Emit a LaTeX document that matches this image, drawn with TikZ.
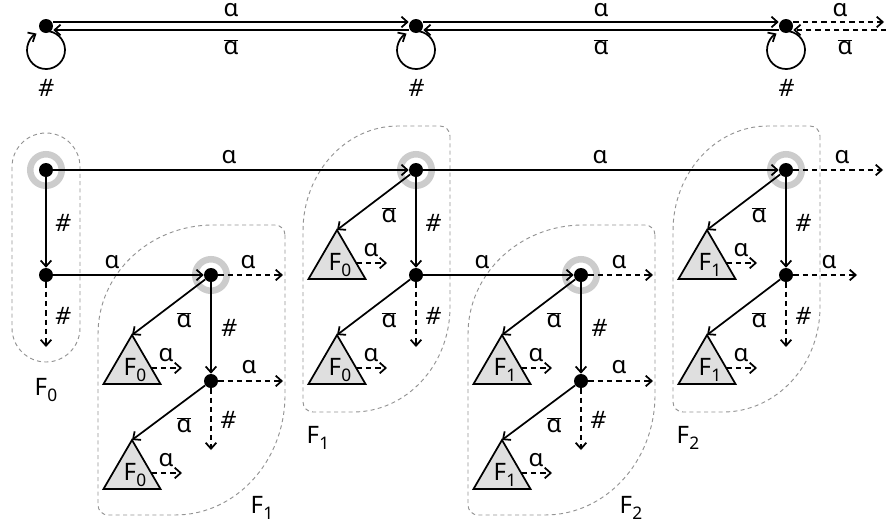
\documentclass[tikz,border=0pt]{standalone}
\usepackage{fontspec}
\setmainfont{Noto Sans}
\usetikzlibrary{arrows.meta,calc}
\pgfdeclarelayer{bg}\pgfsetlayers{bg,main}
\newcommand\myal{ɑ}
\newcommand\myabar{$\overline{\hbox{ɑ}}$}
\newcommand\myhash{{\itshape\#}}
\newcommand\Fs[1]{F\kern0.3pt\raisebox{-5pt}{\fontsize{13}{13}\selectfont#1}}
\newcommand\mytri[3]{%
  \coordinate (#1) at #2;
  \draw[tri] (#1) -- ++(28.5,49) -- ++(-57,0) -- cycle;
  \node[lbl, anchor=base] (#1-F) at ($(#1)+(3,40)$) {\Fs{#3}};
  \coordinate (#1-s) at ($(#1)+(19.5,33)$);
  \coordinate (#1-e) at ($(#1)+(50,33)$);
  \draw[arr,dsh] (#1-s) -- (#1-e);
  \node[lbl] (#1-a) at ($(#1)+(34,20)$) {\myal};
}
\newcommand\grp[8]{%
  \draw[grpline] ({#3},{#2+10})
   -- ({#3},{#4-#8})
   .. controls ({#3},{#4-#8+0.5523*#8}) and ({#3-#7+0.5523*#7},{#4}) .. ({#3-#7},{#4})
   -- ({#1+10},{#4})
   .. controls ({#1+10-5.523},{#4}) and ({#1},{#4-10+5.523}) .. ({#1},{#4-10})
   -- ({#1},{#2+#6})
   .. controls ({#1},{#2+#6-0.5523*#6}) and ({#1+#5-0.5523*#5},{#2}) .. ({#1+#5},{#2})
   -- ({#3-10},{#2})
   .. controls ({#3-10+5.523},{#2}) and ({#3},{#2+10-5.523}) .. ({#3},{#2+10}) -- cycle;
}
\begin{document}
\begin{tikzpicture}[x=0.75pt,y=-0.75pt,
  dot/.style={circle, fill=black, inner sep=0pt, minimum size=10.5pt},
  ring/.style={draw=gray!40, line width=4.9pt},
  arr/.style={-{Straight Barb[length=4.5pt,width=8pt]}, line width=1.3pt},
  dsh/.style={dash pattern=on 4pt off 3pt},
  grpline/.style={draw=gray!85, line width=0.7pt, dash pattern=on 3pt off 2.5pt},
  tri/.style={draw=black, fill=gray!25, line width=1.3pt},
  lbl/.style={inner sep=0pt, font=\fontsize{18}{20}\selectfont}]
\useasboundingbox (0,0) rectangle (886,529);

% ---------- top row ----------
\node[dot] (t0) at (46,26) {};
\node[dot] (t1) at (416,26) {};
\node[dot] (t2) at (786,26) {};
\coordinate (tr1) at (884,22);
\coordinate (tr2) at (886,30);
\draw[arr] ([yshift=3pt]t0.east) -- ([yshift=3pt]t1.west);
\draw[arr] ([yshift=-3pt]t1.west) -- ([yshift=-3pt]t0.east);
\draw[arr] ([yshift=3pt]t1.east) -- ([yshift=3pt]t2.west);
\draw[arr] ([yshift=-3pt]t2.west) -- ([yshift=-3pt]t1.east);
\draw[arr,dsh] ([yshift=3pt]t2.east) -- (tr1);
\draw[arr,dsh] (tr2) -- ([yshift=-3pt]t2.east);
\foreach \n in {t0,t1,t2}
  \draw[arr] ([shift={(3.3,5.3)}]\n.center) arc[start angle=-80, end angle=240, radius=19];
\node[lbl] (la1) at (231,10) {\myal};
\node[lbl] (lb1) at (231,47) {\myabar};
\node[lbl] (la2) at (601,10) {\myal};
\node[lbl] (lb2) at (601,47) {\myabar};
\node[lbl] (la3) at (840,10) {\myal};
\node[lbl] (lb3) at (845,47) {\myabar};
\node[lbl] (lh1) at (46,88) {\myhash};
\node[lbl] (lh2) at (416,88) {\myhash};
\node[lbl] (lh3) at (786,88) {\myhash};

% ---------- group outlines ----------
\draw[grpline, rounded corners=25.5pt] (12,133) rectangle (80,362);
\grp{98}{225}{285}{515}{115}{109}{110}{120}
\grp{468}{225}{655}{515}{115}{109}{110}{120}
\grp{303}{126}{450}{412}{95}{105}{97}{105}
\grp{673}{126}{820}{412}{95}{105}{97}{105}

% ---------- bottom nodes ----------
\node[dot] (T0) at (46,170) {};
\node[dot] (M0) at (46,275) {};
\node[dot] (T1) at (416,170) {};
\node[dot] (M1) at (416,275) {};
\node[dot] (T2) at (786,170) {};
\node[dot] (M2) at (786,275) {};
\node[dot] (L1) at (211,275) {};
\node[dot] (P1) at (211,381) {};
\node[dot] (L2) at (581,275) {};
\node[dot] (P2) at (581,381) {};
\begin{pgfonlayer}{bg}
\foreach \n in {T0,T1,T2,L1,L2} \draw[ring] (\n) circle[radius=15.75];
\end{pgfonlayer}

\coordinate (T2e) at (883,170);
\coordinate (M0d) at (46,347);
\coordinate (M1d) at (416,347);
\coordinate (M2d) at (786,347);
\coordinate (M2e) at (857,275);
\coordinate (L1e) at (283,275);
\coordinate (P1e) at (283,381);
\coordinate (P1d) at (211,450);
\coordinate (L2e) at (653,275);
\coordinate (P2e) at (653,381);
\coordinate (P2d) at (581,450);

% triangles
\mytri{A1}{(337,230)}{0}
\mytri{B1}{(337,335)}{0}
\mytri{A2}{(707,230)}{1}
\mytri{B2}{(707,335)}{1}
\mytri{C1}{(132,335)}{0}
\mytri{D1}{(132,440)}{0}
\mytri{C2}{(502,335)}{1}
\mytri{D2}{(502,440)}{1}

% column edges
\draw[arr] (T0) -- (T1);
\draw[arr] (T1) -- (T2);
\draw[arr,dsh] (T2) -- (T2e);
\draw[arr] (T0) -- (M0);
\draw[arr] (T1) -- (M1);
\draw[arr] (T2) -- (M2);
\draw[arr,dsh] (M0) -- (M0d);
\draw[arr,dsh] (M1) -- (M1d);
\draw[arr,dsh] (M2) -- (M2d);
\draw[arr] (M0) -- (L1);
\draw[arr] (M1) -- (L2);
\draw[arr,dsh] (M2) -- (M2e);
\draw[arr] (T1) -- (A1);
\draw[arr] (M1) -- (B1);
\draw[arr] (T2) -- (A2);
\draw[arr] (M2) -- (B2);
% lower group edges
\draw[arr,dsh] (L1) -- (L1e);
\draw[arr] (L1) -- (P1);
\draw[arr,dsh] (P1) -- (P1e);
\draw[arr,dsh] (P1) -- (P1d);
\draw[arr] (L1) -- (C1);
\draw[arr] (P1) -- (D1);
\draw[arr,dsh] (L2) -- (L2e);
\draw[arr] (L2) -- (P2);
\draw[arr,dsh] (P2) -- (P2e);
\draw[arr,dsh] (P2) -- (P2d);
\draw[arr] (L2) -- (C2);
\draw[arr] (P2) -- (D2);

% labels
\node[lbl] (e1) at (229,157) {\myal};
\node[lbl] (e2) at (600,157) {\myal};
\node[lbl] (e3) at (842,157) {\myal};
\node[lbl] (h1) at (63,223) {\myhash};
\node[lbl] (h2) at (433,223) {\myhash};
\node[lbl] (h3) at (803,223) {\myhash};
\node[lbl] (h4) at (63,316) {\myhash};
\node[lbl] (h5) at (433,316) {\myhash};
\node[lbl] (h6) at (803,316) {\myhash};
\node[lbl] (e4) at (112,262) {\myal};
\node[lbl] (e5) at (482,262) {\myal};
\node[lbl] (e6) at (829,262) {\myal};
\node[lbl] (b1) at (389,215) {\myabar};
\node[lbl] (b2) at (759,215) {\myabar};
\node[lbl] (b3) at (389,320) {\myabar};
\node[lbl] (b4) at (759,320) {\myabar};
\node[lbl] (g1) at (248,262) {\myal};
\node[lbl] (g2) at (229,328) {\myhash};
\node[lbl] (g3) at (249,367) {\myal};
\node[lbl] (g4) at (228,420) {\myhash};
\node[lbl] (g5) at (184,320) {\myabar};
\node[lbl] (g6) at (184,425) {\myabar};
\node[lbl] (k1) at (619,262) {\myal};
\node[lbl] (k2) at (599,328) {\myhash};
\node[lbl] (k3) at (619,367) {\myal};
\node[lbl] (k4) at (598,420) {\myhash};
\node[lbl] (k5) at (554,320) {\myabar};
\node[lbl] (k6) at (554,425) {\myabar};
\node[lbl, anchor=base] (f0) at (46,395) {\Fs{0}};
\node[lbl, anchor=base] (f1) at (262,513) {\Fs{1}};
\node[lbl, anchor=base] (f2) at (318,443) {\Fs{1}};
\node[lbl, anchor=base] (f3) at (631,513) {\Fs{2}};
\node[lbl, anchor=base] (f4) at (688,443) {\Fs{2}};
\end{tikzpicture}
\end{document}
